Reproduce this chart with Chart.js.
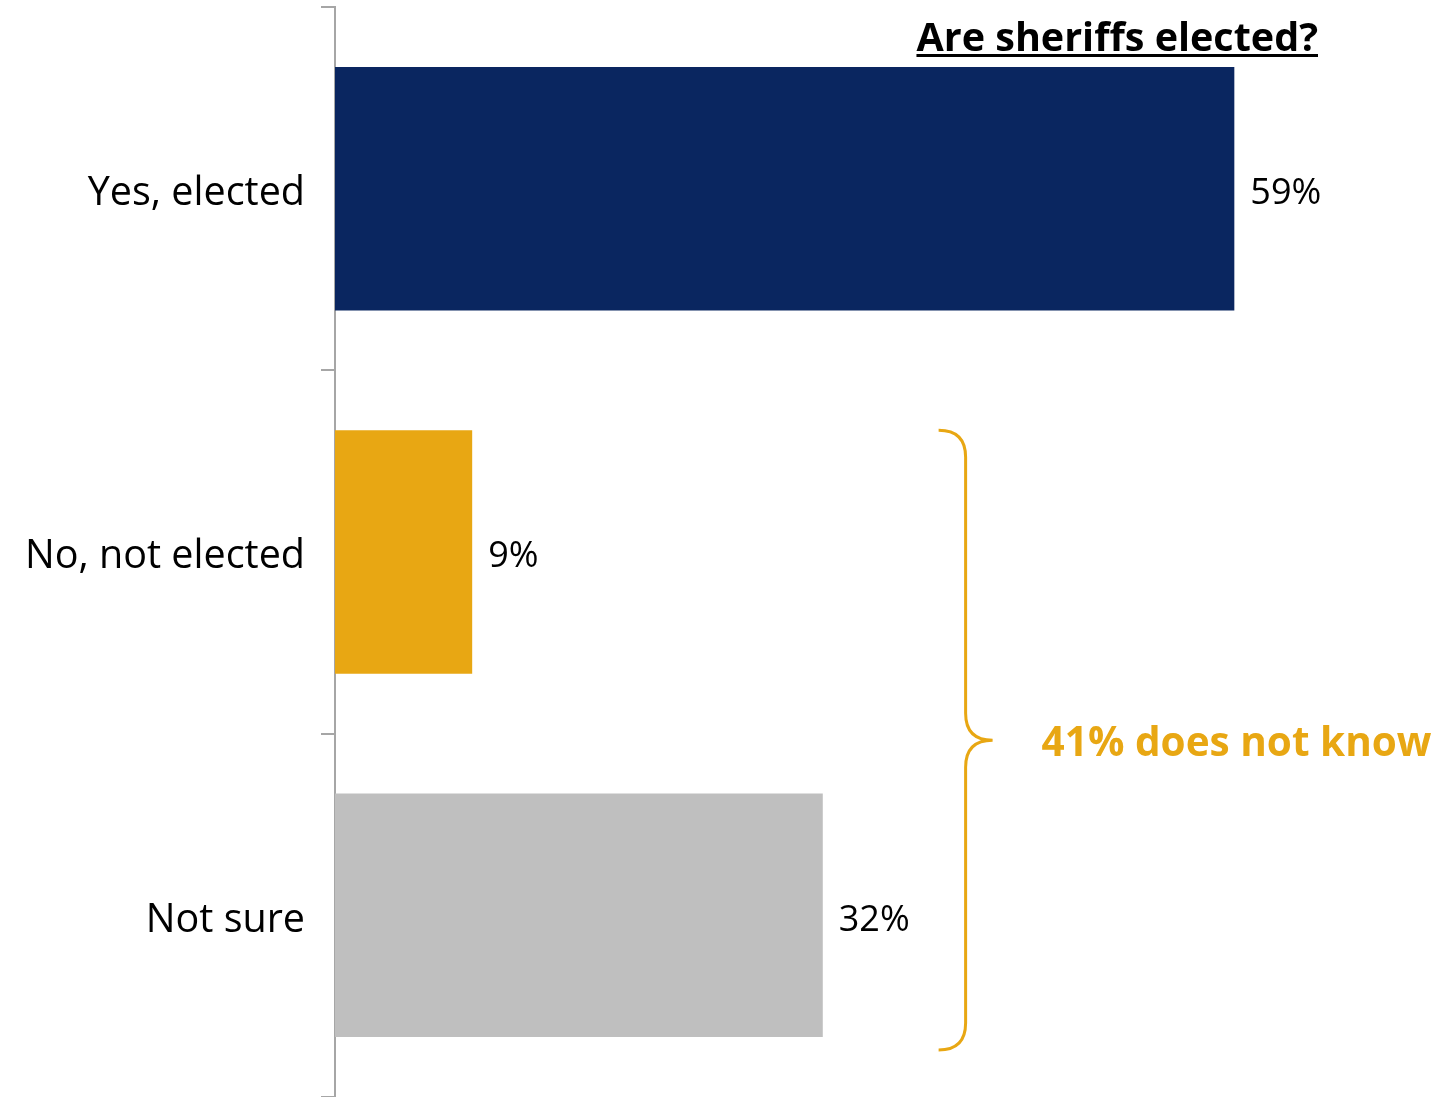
<!DOCTYPE html>
<html>
<head>
<meta charset="utf-8">
<script src="https://cdn.jsdelivr.net/npm/chart.js@4"></script>
<style>
  html, body { margin: 0; padding: 0; background: #fff; }
  #wrap { width: 1442px; height: 1097px; position: relative; }
</style>
</head>
<body>
<div id="wrap"><canvas id="mycanvas"></canvas></div>
<script>
// data
var categories = ['Yes, elected', 'No, not elected', 'Not sure'];
var values = [59, 9, 32];
var barColors = ['#0a2660', '#e8a713', '#bfbfbf'];
var titleText = 'Are sheriffs elected?';
var bracketText = '41% does not know';

var FONT = '"Open Sans", "Noto Sans", sans-serif';
var ORANGE = '#e8a713';

// value labels at end of bars
var valueLabels = {
  id: 'valueLabels',
  afterDatasetsDraw: function(chart) {
    var ctx = chart.ctx;
    var meta = chart.getDatasetMeta(0);
    ctx.save();
    ctx.font = '36px ' + FONT;
    ctx.fillStyle = '#000';
    ctx.textAlign = 'left';
    ctx.textBaseline = 'middle';
    meta.data.forEach(function(bar, i) {
      ctx.fillText(values[i] + '%', bar.x + 16, bar.y + 5);
    });
    ctx.restore();
  }
};

// title + bracket
var extras = {
  id: 'extras',
  afterDraw: function(chart) {
    var ctx = chart.ctx;
    var x = chart.scales.x;
    var meta = chart.getDatasetMeta(0);
    ctx.save();

    // title, underlined
    ctx.font = 'bold 39.5px ' + FONT;
    ctx.fillStyle = '#000';
    ctx.textAlign = 'right';
    ctx.textBaseline = 'alphabetic';
    var tx = 1318, ty = 51;
    ctx.fillText(titleText, tx, ty);
    var w = ctx.measureText(titleText).width;
    ctx.fillRect(tx - w, ty + 3, w, 3);

    // curly bracket for bars 2 and 3
    var b2 = meta.data[1], b3 = meta.data[2];
    var top = b2.y - b2.height / 2;
    var bot = b3.y + b3.height / 2 + 13;
    var mid = (top + bot) / 2;
    var x0 = x.getPixelForValue(39.6);
    var xs = x0 + 27, xt = x0 + 54, r = 27;
    ctx.strokeStyle = ORANGE;
    ctx.lineWidth = 3;
    ctx.beginPath();
    ctx.moveTo(x0, top);
    ctx.quadraticCurveTo(xs, top, xs, top + r);
    ctx.lineTo(xs, mid - r);
    ctx.quadraticCurveTo(xs, mid, xt, mid);
    ctx.quadraticCurveTo(xs, mid, xs, mid + r);
    ctx.lineTo(xs, bot - r);
    ctx.quadraticCurveTo(xs, bot, x0, bot);
    ctx.stroke();

    ctx.font = 'bold 40.5px ' + FONT;
    ctx.fillStyle = ORANGE;
    ctx.textAlign = 'left';
    ctx.textBaseline = 'middle';
    ctx.fillText(bracketText, xt + 49, mid + 4);
    ctx.restore();
  }
};

var chartdata = {
  labels: categories,
  datasets: [{
    data: values,
    backgroundColor: barColors,
    borderWidth: 0,
    barPercentage: 0.67,
    categoryPercentage: 1
  }]
};

var ctx = document.getElementById('mycanvas');
var barGraph = new Chart(ctx, {
  type: 'bar',
  data: chartdata,
  options: {
    indexAxis: 'y',
    responsive: true,
    maintainAspectRatio: false,
    animation: false,
    layout: { padding: { top: 7, right: 40, bottom: 0, left: 0 } },
    plugins: {
      legend: { display: false },
      tooltip: { enabled: false }
    },
    scales: {
      x: {
        display: false,
        min: 0,
        max: 70
      },
      y: {
        afterFit: function(scale) {
          scale.width = 335;
          scale.paddingTop = 0;
          scale.paddingBottom = 0;
          // nudge the category labels down a little (font baseline differs)
          if (!scale._nudged) {
            var orig = scale.drawLabels;
            scale.drawLabels = function(area) {
              this.ctx.save();
              this.ctx.translate(0, 5);
              orig.call(this, area);
              this.ctx.restore();
            };
            scale._nudged = true;
          }
        },
        grid: {
          drawOnChartArea: false,
          tickLength: 14,
          color: '#a6a6a6',
          lineWidth: 2
        },
        border: { color: '#a6a6a6', width: 2 },
        ticks: {
          color: '#000',
          padding: 16,
          font: { family: FONT, size: 39.5 }
        }
      }
    }
  },
  plugins: [valueLabels, extras]
});
</script>
</body>
</html>
